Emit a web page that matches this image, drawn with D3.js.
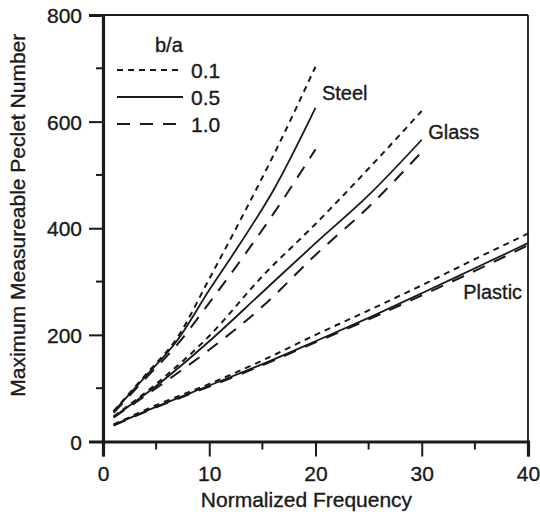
<!DOCTYPE html>
<html>
<head>
<meta charset="utf-8">
<script src="https://cdn.jsdelivr.net/npm/d3@7"></script>
<style>
  body { margin: 0; background: #fff; }
  text { font-family: "Liberation Sans", Arial, sans-serif; fill: #1a1a1a; stroke: #1a1a1a; stroke-width: 0.35px; }
</style>
</head>
<body>
<div id="chart"></div>
<script>
// values (x = normalized frequency, y = max Peclet number)
var steelX   = [1, 4, 7, 10, 13, 16, 20]
var steel01  = [57, 125, 195, 305, 418, 535, 703]
var steel05  = [56, 122, 190, 284, 374, 470, 626]
var steel10  = [54, 118, 182, 260, 341, 426, 548]

var glassX   = [1, 5, 10, 15, 20, 25, 30]
var glass01  = [47, 108, 198, 310, 408, 512, 620]
var glass05  = [46, 104, 188, 280, 372, 462, 566]
var glass10  = [45, 100, 172, 253, 350, 440, 543]

var plasticX  = [1, 5, 10, 15, 20, 25, 30, 35, 40]
var plastic01 = [32, 68, 108, 152, 200, 246, 293, 342, 390]
var plastic05 = [31, 65, 105, 145, 188, 232, 278, 325, 372]
var plastic10 = [30, 64, 103, 143, 186, 229, 274, 320, 368]

var ratios = ["0.1", "0.5", "1.0"]
var xTicks = [0, 10, 20, 30, 40]
var yTicks = [0, 200, 400, 600, 800]
var materials = ["Steel", "Glass", "Plastic"]

var series = [
  {xs: steelX, ys: steel01, ratio: "0.1"},
  {xs: steelX, ys: steel05, ratio: "0.5"},
  {xs: steelX, ys: steel10, ratio: "1.0"},
  {xs: glassX, ys: glass01, ratio: "0.1"},
  {xs: glassX, ys: glass05, ratio: "0.5"},
  {xs: glassX, ys: glass10, ratio: "1.0"},
  {xs: plasticX, ys: plastic01, ratio: "0.1"},
  {xs: plasticX, ys: plastic05, ratio: "0.5"},
  {xs: plasticX, ys: plastic10, ratio: "1.0"}
]

var dash = {"0.1": "6,5", "0.5": null, "1.0": "13,10"}

var margin = {top: 15, right: 12, bottom: 70.5, left: 103},
  width = 540 - margin.left - margin.right,
  height = 512 - margin.top - margin.bottom;

var svg = d3.select("#chart")
  .append("svg")
    .attr("width", 540)
    .attr("height", 512)
  .append("g")
    .attr("transform", "translate(" + margin.left + "," + margin.top + ")");

var x = d3.scaleLinear().domain([0, 40]).range([0, width])
var y = d3.scaleLinear().domain([0, 800]).range([height, 0])

// frame: top and right are thin
svg.append("line").attr("x1", 0).attr("x2", width).attr("y1", 0).attr("y2", 0)
  .attr("stroke", "#1a1a1a").attr("stroke-width", 1.8)
svg.append("line").attr("x1", width).attr("x2", width).attr("y1", 0).attr("y2", height)
  .attr("stroke", "#1a1a1a").attr("stroke-width", 1.8)

// minor ticks
var xMinor = d3.range(5, 40, 10)
var yMinor = d3.range(100, 800, 200)

var xAxis = svg.append("g")
  .attr("transform", "translate(0," + height + ")")
  .call(d3.axisBottom(x).tickValues(xTicks).tickSize(15).tickPadding(10).tickFormat(d3.format("d")))
xAxis.selectAll(".tickMinor").data(xMinor).enter().append("line")
  .attr("x1", d => x(d)).attr("x2", d => x(d)).attr("y1", 0).attr("y2", 8)

var yAxis = svg.append("g")
  .call(d3.axisLeft(y).tickValues(yTicks).tickSize(14).tickPadding(7).tickFormat(d3.format("d")))
yAxis.selectAll(".tickMinor").data(yMinor).enter().append("line")
  .attr("x1", 0).attr("x2", -7).attr("y1", d => y(d)).attr("y2", d => y(d))

svg.selectAll(".domain").attr("stroke", "#1a1a1a").attr("stroke-width", 3.2)
xAxis.selectAll("line").attr("stroke", "#1a1a1a").attr("stroke-width", 2)
yAxis.selectAll("line").attr("stroke", "#1a1a1a").attr("stroke-width", 2)
svg.selectAll(".tick text").style("font-size", "21px").attr("fill", "#1a1a1a")
  .style("font-family", "'Liberation Sans', Arial, sans-serif")
yAxis.selectAll(".tick text").attr("dy", "0.36em")

// axis titles
svg.append("text")
  .attr("x", width / 2 - 9).attr("y", height + 65)
  .attr("text-anchor", "middle")
  .style("font-size", "21px")
  .text("Normalized Frequency")

svg.append("text")
  .attr("transform", "translate(" + (-78) + "," + (height / 2 - 13) + ") rotate(-90)")
  .attr("text-anchor", "middle")
  .style("font-size", "21px")
  .text("Maximum Measureable Peclet Number")

// curves
var line = d3.line()
  .x(d => x(d[0]))
  .y(d => y(d[1]))
  .curve(d3.curveMonotoneX)

svg.selectAll(".curve")
  .data(series)
  .enter()
  .append("path")
    .attr("class", "curve")
    .attr("d", d => line(d.xs.map((v, i) => [v, d.ys[i]])))
    .attr("fill", "none")
    .attr("stroke", "#1a1a1a")
    .attr("stroke-width", d => d.ratio == "0.5" ? 1.8 : 2)
    .attr("stroke-dasharray", d => dash[d.ratio])

// material labels
var labelPos = {Steel: [20.6, 640], Glass: [30.6, 568], Plastic: [33.9, 267]}
svg.selectAll(".mat")
  .data(materials)
  .enter()
  .append("text")
    .attr("x", d => x(labelPos[d][0]))
    .attr("y", d => y(labelPos[d][1]))
    .style("font-size", "20px")
    .text(d => d)

// legend
var leg = svg.append("g").attr("transform", "translate(14,0)")
leg.append("text").attr("x", 38).attr("y", 37).style("font-size", "20px").text("b/a")
var legY = d3.scalePoint().domain(ratios).range([55, 109])
leg.selectAll(".legline").data(ratios).enter().append("line")
  .attr("x1", 0).attr("x2", 66)
  .attr("y1", d => legY(d)).attr("y2", d => legY(d))
  .attr("stroke", "#1a1a1a")
  .attr("stroke-width", 2)
  .attr("stroke-dasharray", d => dash[d])
leg.selectAll(".legtext").data(ratios).enter().append("text")
  .attr("x", 74).attr("y", d => legY(d) + 7.5)
  .style("font-size", "21px")
  .text(d => d)
</script>
</body>
</html>
